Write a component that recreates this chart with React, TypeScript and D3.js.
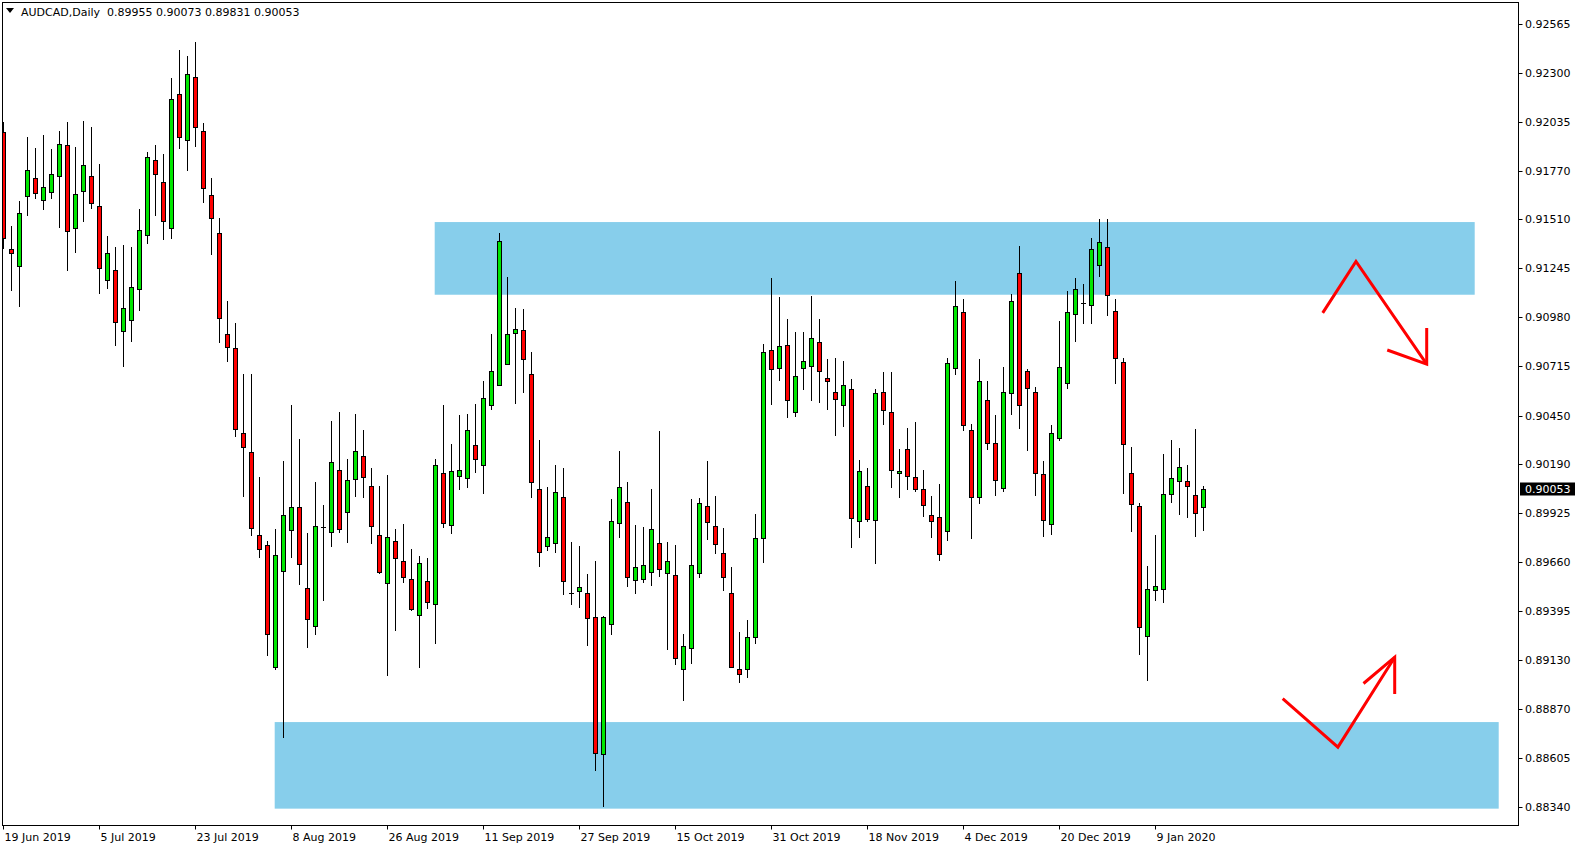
import React from "react";
import * as d3 from "d3";

// ---- Data (AUDCAD Daily, bars 0..150) ----
const opens = [0.91978,0.91347,0.91255,0.91633,0.91730,0.91611,0.91654,0.91740,0.91908,0.91460,0.91660,0.91740,0.91579,0.91180,0.91234,0.90905,0.90964,0.91131,0.91422,0.91827,0.91708,0.91460,0.92183,0.91939,0.92278,0.91985,0.91638,0.91433,0.90888,0.90812,0.90358,0.90255,0.89808,0.89750,0.89095,0.89613,0.89835,0.89955,0.89518,0.89317,0.89850,0.89823,0.90155,0.89928,0.90106,0.90230,0.90068,0.89804,0.89545,0.89772,0.89664,0.89567,0.89373,0.89556,0.89432,0.90138,0.89858,0.90122,0.90112,0.90290,0.90182,0.90505,0.90613,0.90729,0.90893,0.90910,0.90673,0.90053,0.89745,0.89761,0.90009,0.89495,0.89502,0.89491,0.89363,0.88623,0.89327,0.89869,0.89982,0.89561,0.89571,0.89604,0.89761,0.89599,0.89588,0.89082,0.89195,0.89600,0.89961,0.89853,0.89707,0.89491,0.89082,0.89082,0.89254,0.89788,0.90802,0.90705,0.90829,0.90470,0.90705,0.90716,0.90845,0.90651,0.90576,0.90505,0.90592,0.89880,0.90069,0.89885,0.90576,0.90468,0.90139,0.90268,0.90117,0.90052,0.89912,0.89901,0.89826,0.90705,0.91007,0.90370,0.90009,0.90532,0.90300,0.90058,0.90570,0.91217,0.90689,0.90576,0.90133,0.89864,0.90331,0.90624,0.90996,0.91059,0.91045,0.91261,0.91358,0.91012,0.90737,0.90139,0.89960,0.89260,0.89508,0.89513,0.90026,0.90095,0.90095,0.90020,0.89955];
const highs = [0.92032,0.91473,0.91608,0.91953,0.91892,0.91964,0.91888,0.91983,0.92032,0.91899,0.92039,0.92007,0.91807,0.91419,0.91360,0.91370,0.91360,0.91564,0.91872,0.91910,0.91861,0.92271,0.92422,0.92390,0.92466,0.92030,0.91730,0.91516,0.91069,0.90949,0.90673,0.90673,0.90119,0.89772,0.89838,0.90204,0.90505,0.90324,0.89816,0.90090,0.89970,0.90422,0.90469,0.90216,0.90459,0.90372,0.90167,0.90070,0.90129,0.89838,0.89867,0.89730,0.89693,0.89682,0.90216,0.90507,0.90297,0.90453,0.90459,0.90512,0.90637,0.90890,0.91433,0.91200,0.91030,0.91025,0.90793,0.90319,0.90066,0.90184,0.90168,0.89768,0.89746,0.89595,0.89666,0.89367,0.90000,0.90259,0.90090,0.89858,0.89849,0.90055,0.90365,0.89768,0.89752,0.89272,0.90002,0.90007,0.90205,0.90016,0.89844,0.89634,0.89283,0.89348,0.89920,0.90836,0.91192,0.91090,0.90970,0.90901,0.90901,0.91095,0.90970,0.90754,0.90761,0.90745,0.90648,0.90211,0.90167,0.90592,0.90685,0.90685,0.90270,0.90383,0.90416,0.90157,0.90018,0.90081,0.90759,0.91176,0.91077,0.90403,0.90755,0.90635,0.90452,0.90710,0.91104,0.91365,0.90700,0.90604,0.90203,0.90398,0.90960,0.91122,0.91190,0.91160,0.91408,0.91510,0.91510,0.91079,0.90759,0.90279,0.89977,0.89639,0.89806,0.90243,0.90318,0.90275,0.90182,0.90378,0.90073];
const lows = [0.91352,0.91128,0.91043,0.91532,0.91622,0.91564,0.91626,0.91469,0.91237,0.91334,0.91502,0.91568,0.91113,0.91140,0.90833,0.90720,0.90854,0.91021,0.91383,0.91532,0.91404,0.91410,0.91895,0.91773,0.91902,0.91604,0.91320,0.90847,0.90744,0.90338,0.90016,0.89806,0.89689,0.89161,0.89083,0.88716,0.89689,0.89542,0.89200,0.89273,0.89454,0.89747,0.89820,0.89770,0.90018,0.90009,0.89765,0.89603,0.89049,0.89295,0.89554,0.89400,0.89096,0.89414,0.89225,0.89847,0.89815,0.90052,0.90063,0.90148,0.90034,0.90487,0.90613,0.90726,0.90520,0.90580,0.90013,0.89641,0.89723,0.89715,0.89490,0.89435,0.89416,0.89214,0.88540,0.88342,0.89274,0.89797,0.89533,0.89495,0.89550,0.89538,0.89586,0.89192,0.89112,0.88916,0.89117,0.89582,0.89786,0.89711,0.89509,0.89092,0.89015,0.89038,0.89225,0.89662,0.90510,0.90644,0.90444,0.90450,0.90595,0.90536,0.90525,0.90488,0.90347,0.90396,0.89743,0.89797,0.89883,0.89657,0.90407,0.90067,0.90013,0.90056,0.90045,0.89910,0.89793,0.89673,0.89777,0.90673,0.90374,0.89788,0.89977,0.90272,0.90024,0.90045,0.90460,0.90385,0.90266,0.90024,0.89802,0.89810,0.90320,0.90601,0.90854,0.90951,0.90951,0.91205,0.90995,0.90628,0.90034,0.89829,0.89166,0.89026,0.89457,0.89446,0.89986,0.89921,0.89901,0.89802,0.89831];
const closes = [0.91406,0.91325,0.91541,0.91773,0.91649,0.91681,0.91751,0.91913,0.91444,0.91644,0.91800,0.91595,0.91244,0.91325,0.90953,0.91029,0.91142,0.91449,0.91843,0.91751,0.91498,0.92156,0.91951,0.92290,0.92005,0.91680,0.91514,0.90974,0.90822,0.90380,0.90282,0.89845,0.89728,0.89273,0.89696,0.89913,0.89955,0.89647,0.89354,0.89857,0.89850,0.90202,0.89836,0.90101,0.90257,0.90117,0.89853,0.89608,0.89793,0.89680,0.89578,0.89405,0.89653,0.89446,0.90182,0.89869,0.90149,0.90155,0.90371,0.90214,0.90543,0.90689,0.91390,0.90890,0.90915,0.90757,0.90090,0.89717,0.89794,0.90036,0.89557,0.89495,0.89524,0.89356,0.88629,0.89363,0.89880,0.90064,0.89582,0.89632,0.89643,0.89841,0.89621,0.89664,0.89141,0.89206,0.89643,0.89977,0.89874,0.89759,0.89578,0.89092,0.89054,0.89254,0.89788,0.90791,0.90700,0.90824,0.90532,0.90662,0.90743,0.90867,0.90689,0.90635,0.90538,0.90613,0.89896,0.90150,0.89890,0.90570,0.90478,0.90155,0.90150,0.90123,0.90052,0.89966,0.89880,0.89702,0.90732,0.91039,0.90398,0.90009,0.90635,0.90300,0.90101,0.90580,0.91066,0.90505,0.90597,0.90139,0.89885,0.90354,0.90710,0.91007,0.91131,0.91059,0.91347,0.91385,0.91099,0.90759,0.90295,0.89971,0.89308,0.89513,0.89529,0.90026,0.90112,0.90171,0.90068,0.89923,0.90053];

const priceTicks = ["0.92565","0.92300","0.92035","0.91770","0.91510","0.91245","0.90980","0.90715","0.90450","0.90190","0.89925","0.89660","0.89395","0.89130","0.88870","0.88605","0.88340"];
const dateTickBars = [0,12,24,36,48,60,72,84,96,108,120,132,144];
const dateTickLabels = ["19 Jun 2019","5 Jul 2019","23 Jul 2019","8 Aug 2019","26 Aug 2019","11 Sep 2019","27 Sep 2019","15 Oct 2019","31 Oct 2019","18 Nov 2019","4 Dec 2019","20 Dec 2019","9 Jan 2020"];

const symbolTitle = "AUDCAD,Daily";
const lastPrice = 0.90053;

// zones: [barStart, barEnd, priceTop, priceBottom]
const upperZone = [53.9, 183.9, 0.91494, 0.91102];
const lowerZone = [33.9, 186.9, 0.88797, 0.88330];

// arrow annotations as (bar, price) points
const arrowDownPath = [[164.9,0.91004],[169.06,0.91282],[177.9,0.90728]];
const arrowDownHead = [[172.97,0.90804],[177.9,0.90728],[177.9,0.90923]];
const arrowUpPath = [[159.9,0.88924],[166.8,0.88662],[173.9,0.89147]];
const arrowUpHead = [[170.0,0.89005],[173.9,0.89147],[173.9,0.88948]];

const W = 1582, H = 850;
const FRAME_L = 2.5, FRAME_R = 1518.5, FRAME_T = 2.5, FRAME_B = 825.5;
const FONT = "'DejaVu Sans', Verdana, sans-serif";
const BULL = "#00e600", BEAR = "#ff0000", ZONE = "#87ceeb";

export default function App() {
  const x = d3.scaleLinear().domain([0, 150]).range([3.5, 1203.5]);
  const y = d3.scaleLinear().domain([0.8834, 0.92565]).range([806.8, 23.5]);
  const snap = (v: number) => Math.round(v) + 0.5;
  const line = d3.line<number[]>().x(d => x(d[0])).y(d => y(d[1]));

  const candles = opens.map((o, i) => {
    const c = closes[i], h = highs[i], l = lows[i];
    const cx = x(i);
    const top = snap(y(Math.max(o, c)));
    const bot = snap(y(Math.min(o, c)));
    const bull = c > o;
    return (
      <g key={i}>
        <line x1={cx} x2={cx} y1={Math.round(y(h))} y2={Math.round(y(l)) + 1} stroke="#000" strokeWidth={1} />
        {bot - top < 1 ? (
          <line x1={cx - 2.5} x2={cx + 2.5} y1={top} y2={top} stroke="#000" strokeWidth={1} />
        ) : (
          <rect x={cx - 2} y={top} width={4} height={bot - top} fill={bull ? BULL : BEAR} stroke="#000" strokeWidth={1} />
        )}
      </g>
    );
  });

  const zoneRect = (z: number[], k: string) => (
    <rect key={k} x={x(z[0])} y={y(z[2])} width={x(z[1]) - x(z[0])} height={y(z[3]) - y(z[2])} fill={ZONE} />
  );

  return (
    <svg width={W} height={H} style={{ position: "absolute", left: 0, top: 0, background: "#fff" }} fontFamily={FONT}>
      <defs>
        <clipPath id="plot">
          <rect x={FRAME_L} y={FRAME_T} width={FRAME_R - FRAME_L} height={FRAME_B - FRAME_T} />
        </clipPath>
      </defs>
      <rect x={0} y={0} width={W} height={H} fill="#fff" />
      <g clipPath="url(#plot)">
        {zoneRect(upperZone, "uz")}
        {zoneRect(lowerZone, "lz")}
        {candles}
        <g fill="none" stroke="#ff0000" strokeWidth={3} strokeLinejoin="miter">
          <path d={line(arrowDownPath as any) || ""} />
          <path d={line(arrowDownHead as any) || ""} />
          <path d={line(arrowUpPath as any) || ""} />
          <path d={line(arrowUpHead as any) || ""} />
        </g>
      </g>
      <rect x={FRAME_L} y={FRAME_T} width={FRAME_R - FRAME_L} height={FRAME_B - FRAME_T} fill="none" stroke="#000" strokeWidth={1} />
      {/* price axis */}
      {priceTicks.map(t => {
        const yy = snap(y(+t));
        return (
          <g key={t}>
            <line x1={FRAME_R} x2={FRAME_R + 4} y1={yy} y2={yy} stroke="#000" />
            <text x={1525} y={yy} dy="0.35em" fontSize={11} fill="#000">{t}</text>
          </g>
        );
      })}
      <rect x={1520} y={snap(y(lastPrice)) - 7} width={55} height={13} fill="#000" />
      <text x={1525} y={snap(y(lastPrice))} dy="0.35em" fontSize={11} fill="#fff">{lastPrice.toFixed(5)}</text>
      {/* time axis */}
      {dateTickBars.map((b, i) => {
        const xx = Math.floor(x(b)) + 0.5;
        return (
          <g key={b}>
            <line x1={xx} x2={xx} y1={FRAME_B} y2={FRAME_B + 4} stroke="#000" />
            <text x={xx + 1} y={837} dy="0.35em" fontSize={11} fill="#000">{dateTickLabels[i]}</text>
          </g>
        );
      })}
      {/* header */}
      <path d="M6,8 L14,8 L10,13 Z" fill="#000" />
      <text x={21} y={12} dy="0.35em" fontSize={11} fill="#000" style={{ whiteSpace: "pre" }}>
        {`${symbolTitle}  ${opens[150].toFixed(5)} ${highs[150].toFixed(5)} ${lows[150].toFixed(5)} ${closes[150].toFixed(5)}`}
      </text>
    </svg>
  );
}
